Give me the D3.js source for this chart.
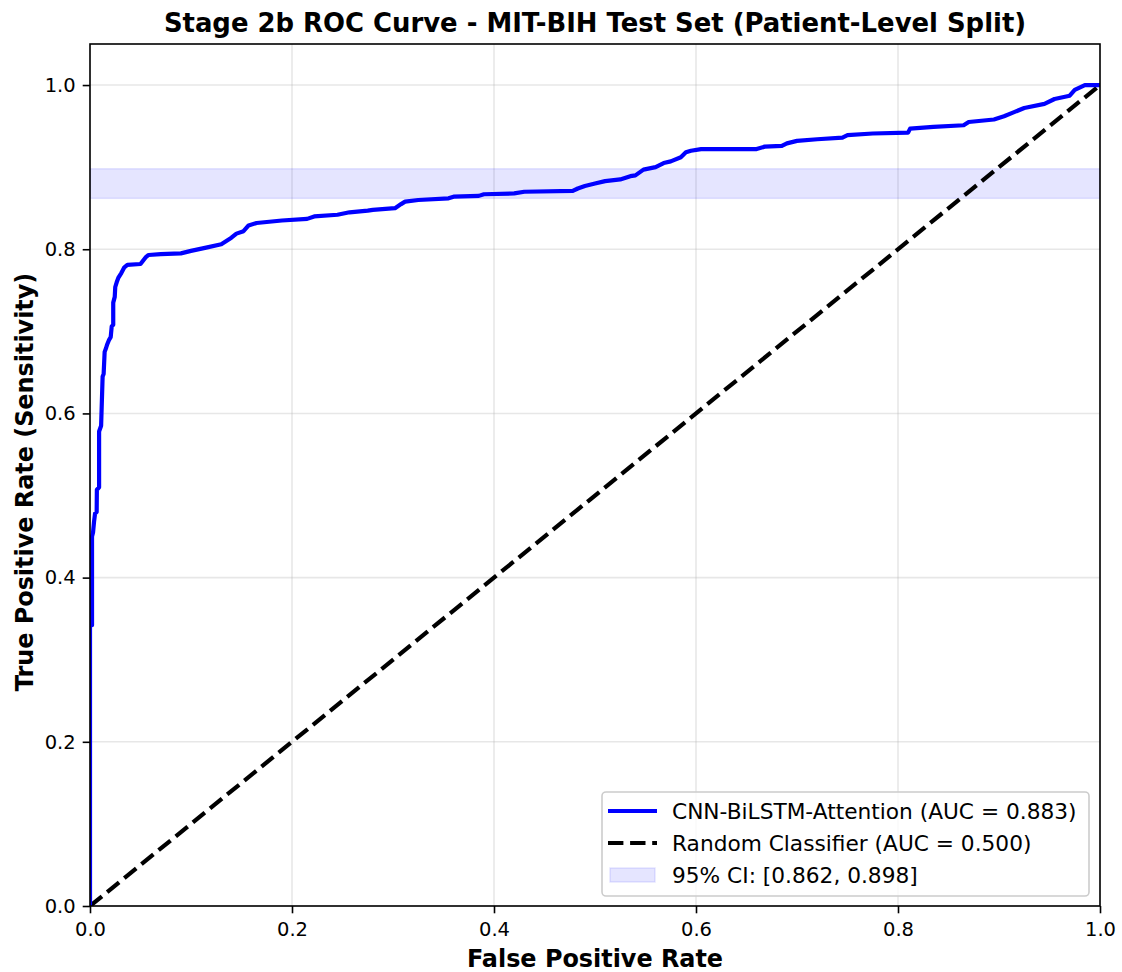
<!DOCTYPE html>
<html><head><meta charset="utf-8">
<script src="https://cdn.jsdelivr.net/npm/d3@7"></script>
<style>body{margin:0;background:#fff}svg{display:block}text{font-family:"DejaVu Sans",sans-serif}</style>
</head><body><svg id="c" width="1122" height="972"></svg>
<script>
const fpr = [0,0,0.002,0.002,0.003,0.004,0.005,0.0066,0.0068,0.009,0.009,0.011,0.0125,0.0135,0.0145,0.016,0.017,0.019,0.0205,0.0215,0.023,0.023,0.0245,0.025,0.0265,0.028,0.031,0.034,0.037,0.05,0.055,0.058,0.07,0.09,0.1,0.115,0.13,0.14,0.145,0.152,0.157,0.165,0.19,0.215,0.222,0.245,0.257,0.275,0.28,0.302,0.308,0.312,0.325,0.355,0.36,0.385,0.39,0.42,0.43,0.478,0.483,0.49,0.5,0.51,0.525,0.535,0.54,0.548,0.56,0.568,0.575,0.585,0.59,0.595,0.605,0.66,0.668,0.685,0.69,0.7,0.72,0.745,0.75,0.775,0.81,0.812,0.835,0.865,0.87,0.895,0.905,0.915,0.925,0.945,0.955,0.97,0.975,0.985,1];
const tpr = [0,0.342,0.342,0.45,0.455,0.468,0.478,0.48,0.507,0.51,0.578,0.585,0.645,0.648,0.675,0.68,0.684,0.69,0.693,0.706,0.708,0.735,0.742,0.754,0.76,0.765,0.771,0.778,0.781,0.782,0.79,0.793,0.794,0.795,0.798,0.802,0.806,0.814,0.819,0.822,0.829,0.832,0.835,0.837,0.84,0.842,0.845,0.847,0.848,0.85,0.855,0.858,0.86,0.862,0.864,0.865,0.867,0.868,0.87,0.871,0.874,0.877,0.88,0.883,0.885,0.889,0.89,0.897,0.9,0.905,0.907,0.912,0.918,0.92,0.922,0.922,0.925,0.926,0.929,0.932,0.934,0.936,0.939,0.941,0.942,0.947,0.949,0.951,0.955,0.958,0.962,0.967,0.972,0.977,0.983,0.987,0.994,1,1];
const randomX = [0,1];
const randomY = [0,1];
const ciBounds = [0.862,0.898];
const xTicks = [0,0.2,0.4,0.6,0.8,1.0];
const yTicks = [0,0.2,0.4,0.6,0.8,1.0];
const legendLabels = ["CNN-BiLSTM-Attention (AUC = 0.883)","Random Classifier (AUC = 0.500)","95% CI: [0.862, 0.898]"];
const titleText = "Stage 2b ROC Curve - MIT-BIH Test Set (Patient-Level Split)";

const svg = d3.select("#c");
const L=90,R=1100,T=44,B=906;
const x = d3.scaleLinear().domain([0,1]).range([L,R]);
const y = d3.scaleLinear().domain([0,1.05]).range([B,T]);

svg.append("defs").append("clipPath").attr("id","clip").append("rect")
  .attr("x",L).attr("y",T).attr("width",R-L).attr("height",B-T);

// grid
const g = svg.append("g");
g.selectAll(".gx").data(xTicks).enter().append("line")
  .attr("x1",d=>x(d)).attr("x2",d=>x(d)).attr("y1",T).attr("y2",B)
  .attr("stroke","#b0b0b0").attr("stroke-opacity",0.3).attr("stroke-width",1.6);
g.selectAll(".gy").data(yTicks).enter().append("line")
  .attr("y1",d=>y(d)).attr("y2",d=>y(d)).attr("x1",L).attr("x2",R)
  .attr("stroke","#b0b0b0").attr("stroke-opacity",0.3).attr("stroke-width",1.6);

const plot = svg.append("g").attr("clip-path","url(#clip)");
// CI band
plot.append("rect").attr("x",x(0)).attr("width",x(1)-x(0))
  .attr("y",y(ciBounds[1])).attr("height",y(ciBounds[0])-y(ciBounds[1]))
  .attr("fill","blue").attr("fill-opacity",0.1).attr("stroke","blue").attr("stroke-opacity",0.1).attr("stroke-width",1.5);
// random line
plot.append("path").datum(randomX.map((v,i)=>[v,randomY[i]]))
  .attr("d",d3.line().x(d=>x(d[0])).y(d=>y(d[1])))
  .attr("fill","none").attr("stroke","black").attr("stroke-width",4.2).attr("stroke-dasharray","15.4,6.7");
// ROC
plot.append("path").datum(fpr.map((v,i)=>[v,tpr[i]]))
  .attr("d",d3.line().x(d=>x(d[0])).y(d=>y(d[1])))
  .attr("fill","none").attr("stroke","blue").attr("stroke-width",4.2).attr("stroke-linejoin","round").attr("stroke-linecap","butt");

// axes
const xa = svg.append("g").attr("transform",`translate(0,${B})`)
  .call(d3.axisBottom(x).tickValues(xTicks).tickFormat(d3.format(".1f")).tickSize(7.3).tickPadding(9));
const ya = svg.append("g").attr("transform",`translate(${L},0)`)
  .call(d3.axisLeft(y).tickValues(yTicks).tickFormat(d3.format(".1f")).tickSize(7.3).tickPadding(7));
[xa,ya].forEach(a=>{
  a.select(".domain").remove();
  a.selectAll(".tick line").attr("stroke","black").attr("stroke-width",1.6);
  a.selectAll(".tick text").attr("font-size",19.5).attr("fill","black").attr("font-family","DejaVu Sans");
});
// frame
svg.append("rect").attr("x",L).attr("y",T).attr("width",R-L).attr("height",B-T)
  .attr("fill","none").attr("stroke","black").attr("stroke-width",1.6);

// labels
svg.append("text").attr("x",(L+R)/2).attr("y",32).attr("text-anchor","middle")
  .attr("font-size",25.9).attr("font-weight","bold").text(titleText);
svg.append("text").attr("x",(L+R)/2).attr("y",967).attr("text-anchor","middle")
  .attr("font-size",23.9).attr("font-weight","bold").text("False Positive Rate");
svg.append("text").attr("transform",`translate(33,482) rotate(-90)`).attr("text-anchor","middle")
  .attr("font-size",23.9).attr("font-weight","bold").text("True Positive Rate (Sensitivity)");

// legend
const lg = svg.append("g");
lg.append("rect").attr("x",602).attr("y",792).attr("width",487).attr("height",104).attr("rx",4)
  .attr("fill","white").attr("fill-opacity",0.8).attr("stroke","#cccccc").attr("stroke-width",1.6);
const rows=[811,843,875];
lg.append("line").attr("x1",608).attr("x2",657).attr("y1",rows[0]).attr("y2",rows[0]).attr("stroke","blue").attr("stroke-width",4.2);
lg.append("line").attr("x1",608).attr("x2",657).attr("y1",rows[1]).attr("y2",rows[1]).attr("stroke","black").attr("stroke-width",4.2).attr("stroke-dasharray","15.4,6.7");
lg.append("rect").attr("x",610).attr("y",rows[2]-7).attr("width",45).attr("height",14)
  .attr("fill","blue").attr("fill-opacity",0.1).attr("stroke","blue").attr("stroke-opacity",0.1).attr("stroke-width",1.5);
lg.selectAll(".lt").data(legendLabels).enter().append("text")
  .attr("x",672).attr("y",(d,i)=>rows[i]).attr("dy","0.35em").attr("font-size",21.7).attr("fill","black").text(d=>d);
</script></body></html>
